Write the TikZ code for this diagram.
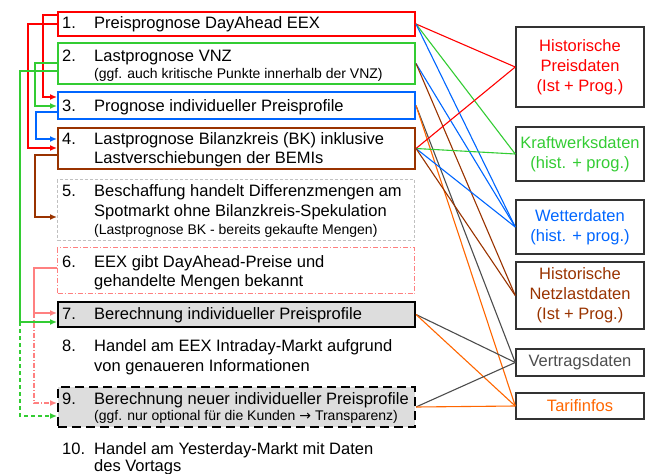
\documentclass[tikz,border=0pt]{standalone}
\usepackage{fontspec}
\setmainfont{Liberation Sans}
\newfontfamily\arrowfont{DejaVu Sans}
\usetikzlibrary{arrows.meta,calc}
\definecolor{cred}{RGB}{255,0,0}
\definecolor{cgreen}{RGB}{51,204,51}
\definecolor{cblue}{RGB}{0,102,255}
\definecolor{cbrown}{RGB}{153,51,0}
\definecolor{corange}{RGB}{255,102,0}
\definecolor{cgray}{RGB}{77,77,77}
\definecolor{cpink}{RGB}{255,128,128}
\definecolor{clgray}{RGB}{192,192,192}
\definecolor{cfill}{RGB}{221,221,221}
\begin{document}
\begin{tikzpicture}[x=1pt,y=-1pt,
  lbox/.style={draw, line width=2pt, minimum width=357pt, inner sep=0pt, anchor=north west},
  rbox/.style={draw=black!80, line width=1.5pt, minimum width=128pt, inner sep=0pt, align=center,
     font=\fontsize{16.5}{20}\selectfont},
  txt/.style={anchor=base west, inner sep=0pt, font=\fontsize{16.5}{19}\selectfont},
  stxt/.style={anchor=base west, inner sep=0pt, font=\fontsize{14}{16}\selectfont},
  conn/.style={line width=1.1pt},
  larr/.style={line width=1.3pt, -{Latex[length=7pt,width=6pt]}},
]
\useasboundingbox (0,0) rectangle (646,474);

% left boxes
\node[lbox, draw=cred, minimum height=24pt] (b1) at (57,11) {};
\node[lbox, draw=cgreen, minimum height=41pt] (b2) at (57,42) {};
\node[lbox, draw=cblue, minimum height=27pt] (b3) at (57,91) {};
\node[lbox, draw=cbrown, minimum height=41pt] (b4) at (57,127) {};
\node[lbox, draw=clgray, line width=1pt, dash pattern=on 3pt off 2pt, minimum height=61pt] (b5) at (57,179) {};
\node[lbox, draw=cpink, line width=1pt, dash pattern=on 5pt off 2pt on 1pt off 2pt, minimum height=46pt] (b6) at (57,247) {};
\node[lbox, draw=black, fill=cfill, minimum height=25pt] (b7) at (57,301) {};
\node[lbox, draw=black, fill=cfill, dash pattern=on 9pt off 5pt, minimum height=40pt] (b9) at (57,386) {};

% left texts
\node[txt] (t1) at (62,28) {\makebox[32pt][l]{1.}Preisprognose DayAhead EEX};
\node[txt] (t2) at (62,61.5) {\makebox[32pt][l]{2.}Lastprognose VNZ};
\node[stxt] (t2b) at (94,78) {(ggf. auch kritische Punkte innerhalb der VNZ)};
\node[txt] (t3) at (62,111) {\makebox[32pt][l]{3.}Prognose individueller Preisprofile};
\node[txt] (t4) at (62,144) {\makebox[32pt][l]{4.}Lastprognose Bilanzkreis (BK) inklusive};
\node[txt] (t4b) at (94,163) {Lastverschiebungen der BEMIs};
\node[txt] (t5) at (62,196.5) {\makebox[32pt][l]{5.}Beschaffung handelt Differenzmengen am};
\node[txt] (t5b) at (94,216) {Spotmarkt ohne Bilanzkreis-Spekulation};
\node[stxt] (t5c) at (94,234) {(Lastprognose BK - bereits gekaufte Mengen)};
\node[txt] (t6) at (62,267.3) {\makebox[32pt][l]{6.}EEX gibt DayAhead-Preise und};
\node[txt] (t6b) at (94,286.7) {gehandelte Mengen bekannt};
\node[txt] (t7) at (62,319) {\makebox[32pt][l]{7.}Berechnung individueller Preisprofile};
\node[txt] (t8) at (62,351.7) {\makebox[32pt][l]{8.}Handel am EEX Intraday-Markt aufgrund};
\node[txt] (t8b) at (94,371) {von genaueren Informationen};
\node[txt] (t9) at (62,404.3) {\makebox[32pt][l]{9.}Berechnung neuer individueller Preisprofile};
\node[stxt] (t9b) at (94,420.7) {(ggf. nur optional für die Kunden {\arrowfont →} Transparenz)};
\node[txt] (t10) at (62,454) {\makebox[32pt][l]{10.}Handel am Yesterday-Markt mit Daten};
\node[txt] (t10b) at (94,471.5) {des Vortags};

% right boxes
\node[rbox, minimum height=80pt, text=cred] (r1) at (580,67) {Historische\\Preisdaten\\(Ist + Prog.)};
\node[rbox, minimum height=54pt, text=cgreen] (r2) at (580,154) {Kraftwerksdaten\\(hist. + prog.)};
\node[rbox, minimum height=54pt, text=cblue] (r3) at (580,227) {Wetterdaten\\(hist. + prog.)};
\node[rbox, minimum height=67pt, text=cbrown] (r4) at (580,295.5) {Historische\\Netzlastdaten\\(Ist + Prog.)};
\node[rbox, minimum height=27pt, text=cgray] (r5) at (580,362.5) {Vertragsdaten};
\node[rbox, minimum height=26pt, text=corange] (r6) at (580,406) {Tarifinfos};

% connectors to the right boxes
\draw[conn, cred] (b1.east) -- (r1.west);
\draw[conn, cgreen] (b1.east) -- (r2.west);
\draw[conn, cblue] (b1.east) -- (r3.west);
\draw[conn, cblue] (b2.east) -- (r3.west);
\draw[conn, cbrown] (b2.east) -- (r4.west);
\draw[conn, cgray] (b3.east) -- (r5.west);
\draw[conn, corange] (b3.east) -- (r6.west);
\draw[conn, cred] (b4.east) -- (r1.west);
\draw[conn, cgreen] (b4.east) -- (r2.west);
\draw[conn, cblue] (b4.east) -- (r3.west);
\draw[conn, cbrown] (b4.east) -- (r4.west);
\draw[conn, cgray] (b7.east) -- (r5.west);
\draw[conn, corange] (b7.east) -- (r6.west);
\draw[conn, cgray] (b9.east) -- (r5.west);
\draw[conn, corange] (b9.east) -- (r6.west);

% left connectors
\draw[larr, cred] (b1.west |- 0,15) -| (43,97) -- (b3.west |- 0,97);
\draw[larr, cred] (b1.west |- 0,24) -| (28,148) -- (b4.west |- 0,148);
\draw[larr, cgreen] (b2.west |- 0,63) -| (35,106) -- (b3.west |- 0,106);
\draw[larr, cblue] (b3.west |- 0,112) -| (36,139) -- (b4.west |- 0,139);
\draw[larr, cbrown] (b4.west |- 0,155) -| (35,217) -- (b5.west |- 0,217);
\draw[larr, cgreen] (b2.west |- 0,71) -| (20,322) -- (b7.west |- 0,322);
\draw[larr, cgreen, dash pattern=on 4pt off 3pt] (20,322) |- (b9.west |- 0,416);
\draw[larr, cpink] (b6.west |- 0,268) -| (34,313) -- (b7.west |- 0,313);
\draw[larr, cpink, dash pattern=on 5pt off 2pt on 1pt off 2pt] (34,313) |- (b9.west |- 0,403);
\end{tikzpicture}
\end{document}
